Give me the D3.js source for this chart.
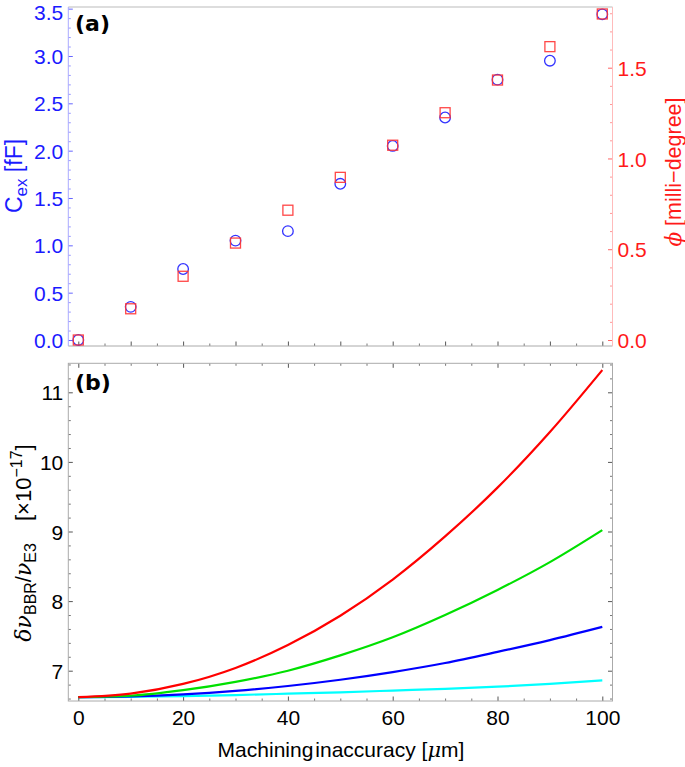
<!DOCTYPE html>
<html>
<head>
<meta charset="utf-8">
<script src="https://cdn.jsdelivr.net/npm/d3@7"></script>
<style>
  body { margin: 0; background: #fff; }
  svg { display: block; font-family: "Liberation Sans", Arial, sans-serif; }
</style>
</head>
<body>
<svg id="chart" width="685" height="767"></svg>
<script>
// ---- data ----
const accuracy = [0, 10, 20, 30, 40, 50, 60, 70, 80, 90, 100];
const capacitance = [0.0, 0.35, 0.75, 1.05, 1.15, 1.65, 2.05, 2.35, 2.75, 2.95, 3.44];
const phase = [0.0, 0.172, 0.351, 0.534, 0.715, 0.896, 1.073, 1.252, 1.432, 1.616, 1.796];

const shiftCyan = [6.62, 6.625, 6.635, 6.65, 6.67, 6.69, 6.715, 6.74, 6.77, 6.81, 6.86];
const shiftBlue = [6.62, 6.63, 6.66, 6.71, 6.78, 6.87, 6.98, 7.11, 7.27, 7.44, 7.63];
const shiftGreen = [6.62, 6.64, 6.72, 6.84, 7.0, 7.22, 7.48, 7.8, 8.16, 8.56, 9.02];
const shiftRed = [6.62, 6.67, 6.81, 7.04, 7.37, 7.79, 8.31, 8.93, 9.63, 10.43, 11.32];

const leftTicks = [0, 0.5, 1, 1.5, 2, 2.5, 3, 3.5];
const rightTicks = [0, 0.5, 1, 1.5];
const bottomYTicks = [7, 8, 9, 10, 11];
const xTicks = [0, 20, 40, 60, 80, 100];

const svg = d3.select("#chart");

// frames
const fx0 = 68.3, fx1 = 612.5;
const top0 = 7, top1 = 346;
const bot0 = 363.3, bot1 = 701;

const x = d3.scaleLinear().domain([0, 100]).range([78.3, 602.3]);
const yL = d3.scaleLinear().domain([0, 3.5]).range([340, 8.65]);
const yR = d3.scaleLinear().domain([0, 1.5]).range([340, 67.7]);
const yB = d3.scaleLinear().domain([7, 11]).range([670.7, 392.3]);

const range = (a, b, s) => d3.range(a, b + s / 2, s).map(v => +v.toFixed(3));
const tickFont = "21px";

function ticksGroup(axis, tx, ty, color) {
  const g = svg.append("g").attr("transform", `translate(${tx},${ty})`).call(axis);
  g.select(".domain").remove();
  g.selectAll(".tick line").attr("stroke", color).attr("stroke-width", 1);
  return g;
}

// ---- panel (a) ----
// bottom ticks (no labels)
ticksGroup(d3.axisBottom(x).tickValues(range(0, 100, 10)).tickSize(-4.5).tickFormat(""), 0, top1, "#555");
ticksGroup(d3.axisBottom(x).tickValues(range(5, 95, 10)).tickSize(-2.5).tickFormat(""), 0, top1, "#777");

// left axis (blue)
const gl = ticksGroup(d3.axisLeft(yL).tickValues(leftTicks).tickSize(-4.5).tickPadding(5)
  .tickFormat(d3.format(".1f")), fx0, 0, "#6666ff");
gl.selectAll("text").attr("fill", "#1a1aff").attr("dy", (d) => d === 3.5 ? "0.5em" : "0.36em")
  .style("font-size", tickFont).style("font-family", "Liberation Sans, Arial, sans-serif");
ticksGroup(d3.axisLeft(yL).tickValues(range(0, 3.5, 0.1).filter(v => Math.abs(v * 2 - Math.round(v * 2)) > 1e-6))
  .tickSize(-2.5).tickFormat(""), fx0, 0, "#9999ff");

// right axis (red)
const gr = ticksGroup(d3.axisRight(yR).tickValues(rightTicks).tickSize(-4.5).tickPadding(5)
  .tickFormat(d3.format(".1f")), fx1, 0, "#ff6666");
gr.selectAll("text").attr("fill", "#ff1a1a").attr("dy", "0.36em").style("font-size", tickFont)
  .style("font-family", "Liberation Sans, Arial, sans-serif");
ticksGroup(d3.axisRight(yR).tickValues(range(0, 1.8, 0.1).filter(v => Math.abs(v * 2 - Math.round(v * 2)) > 1e-6))
  .tickSize(-2.5).tickFormat(""), fx1, 0, "#ff9999");

// frame lines
svg.append("line").attr("x1", fx0).attr("x2", fx1).attr("y1", top0).attr("y2", top0).attr("stroke", "#bbb");
svg.append("line").attr("x1", fx0).attr("x2", fx1).attr("y1", top1).attr("y2", top1).attr("stroke", "#aaa");
svg.append("line").attr("x1", fx0).attr("x2", fx0).attr("y1", top0).attr("y2", top1).attr("stroke", "#aaaaff");
svg.append("line").attr("x1", fx1).attr("x2", fx1).attr("y1", top0).attr("y2", top1).attr("stroke", "#ffbbbb");

// markers
svg.append("g").selectAll("circle").data(accuracy).join("circle")
  .attr("cx", (d) => x(d)).attr("cy", (d, i) => yL(capacitance[i])).attr("r", 5.3)
  .attr("fill", "none").attr("stroke", "#3333ff").attr("stroke-width", 1.3);
svg.append("g").selectAll("rect").data(accuracy).join("rect")
  .attr("x", (d) => x(d) - 5).attr("y", (d, i) => yR(phase[i]) - 5).attr("width", 10).attr("height", 10)
  .attr("fill", "none").attr("stroke", "#ff3333").attr("stroke-opacity", 0.9).attr("stroke-width", 1.3);

svg.append("text").attr("x", 75).attr("y", 31).text("(a)")
  .style("font-family", "DejaVu Sans, sans-serif").style("font-weight", "bold").style("font-size", "22px");

// axis titles (a)
const tl = svg.append("text").attr("transform", "translate(22,176) rotate(-90)")
  .attr("text-anchor", "middle").attr("fill", "#1a1aff").style("font-size", "23px");
tl.append("tspan").text("C");
tl.append("tspan").text("ex").attr("dy", 5).style("font-size", "17px");
tl.append("tspan").text(" [fF]").attr("dy", -5);

const tr = svg.append("text").attr("transform", "translate(681,172) rotate(-90)")
  .attr("text-anchor", "middle").attr("fill", "#ff1a1a").style("font-size", "21.5px");
tr.append("tspan").text("ϕ").style("font-style", "italic").style("font-family", "DejaVu Serif, serif");
tr.append("tspan").text(" [milli−degree]");

// ---- panel (b) ----
const xb = d3.axisBottom(x).tickValues(xTicks).tickSize(-4.5).tickPadding(9);
const gxb = ticksGroup(xb, 0, bot1, "#555");
gxb.selectAll("text").attr("fill", "#000").style("font-size", tickFont)
  .style("font-family", "Liberation Sans, Arial, sans-serif");
ticksGroup(d3.axisBottom(x).tickValues(range(0, 100, 5).filter(v => v % 20 !== 0)).tickSize(-2.5).tickFormat(""), 0, bot1, "#777");
ticksGroup(d3.axisTop(x).tickValues(xTicks).tickSize(-4.5).tickFormat(""), 0, bot0, "#555");
ticksGroup(d3.axisTop(x).tickValues(range(0, 100, 5).filter(v => v % 20 !== 0)).tickSize(-2.5).tickFormat(""), 0, bot0, "#777");

const gyb = ticksGroup(d3.axisLeft(yB).tickValues(bottomYTicks).tickSize(-4.5).tickPadding(5)
  .tickFormat(d3.format("d")), fx0, 0, "#555");
gyb.selectAll("text").attr("fill", "#000").attr("dy", "0.36em").style("font-size", tickFont)
  .style("font-family", "Liberation Sans, Arial, sans-serif");
const minorB = range(6.6, 11.4, 0.2).filter(v => Math.abs(v - Math.round(v)) > 1e-6);
ticksGroup(d3.axisLeft(yB).tickValues(minorB).tickSize(-2.5).tickFormat(""), fx0, 0, "#777");
ticksGroup(d3.axisRight(yB).tickValues(bottomYTicks).tickSize(-4.5).tickFormat(""), fx1, 0, "#555");
ticksGroup(d3.axisRight(yB).tickValues(minorB).tickSize(-2.5).tickFormat(""), fx1, 0, "#777");

svg.append("rect").attr("x", fx0).attr("y", bot0).attr("width", fx1 - fx0).attr("height", bot1 - bot0)
  .attr("fill", "none").attr("stroke", "#aaa");

const line = (vals) => d3.line().x((d) => x(d)).y((d, i) => yB(vals[i])).curve(d3.curveMonotoneX)(accuracy);
const series = [
  { vals: shiftCyan, color: "#00ffff" },
  { vals: shiftBlue, color: "#0000ff" },
  { vals: shiftGreen, color: "#00e000" },
  { vals: shiftRed, color: "#ff0000" }
];
svg.append("g").selectAll("path").data(series).join("path")
  .attr("d", (s) => line(s.vals)).attr("fill", "none")
  .attr("stroke", (s) => s.color).attr("stroke-width", 2.2);

svg.append("text").attr("x", 75).attr("y", 390).text("(b)")
  .style("font-family", "DejaVu Sans, sans-serif").style("font-weight", "bold").style("font-size", "22px");

const tb = svg.append("text").attr("transform", "translate(31,543) rotate(-90)")
  .attr("text-anchor", "middle").attr("fill", "#000").style("font-size", "22px");
tb.append("tspan").text("δν").style("font-style", "italic").style("font-family", "DejaVu Serif, serif");
tb.append("tspan").text("BBR").attr("dy", 5).style("font-size", "16px");
tb.append("tspan").text("/").attr("dy", -5);
tb.append("tspan").text("ν").style("font-style", "italic").style("font-family", "DejaVu Serif, serif");
tb.append("tspan").text("E3").attr("dy", 5).style("font-size", "16px");
tb.append("tspan").text("\u2003[×10").attr("dy", -5);
tb.append("tspan").text("−17").attr("dy", -9).style("font-size", "16px");
tb.append("tspan").text("]").attr("dy", 9);

const xl = svg.append("text").attr("x", 341).attr("y", 757).attr("text-anchor", "middle")
  .attr("fill", "#000").style("font-size", "21px");
xl.append("tspan").text("Machining").attr("dx", 0);
xl.append("tspan").text("inaccuracy").attr("dx", 2);
xl.append("tspan").text(" [");
xl.append("tspan").text("μ").style("font-style", "italic").style("font-family", "DejaVu Serif, serif");
xl.append("tspan").text("m]");
</script>
</body>
</html>
